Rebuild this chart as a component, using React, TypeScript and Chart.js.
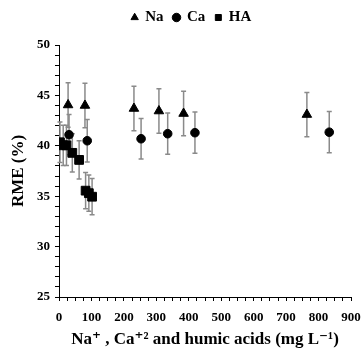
import React, { useEffect, useRef } from "react";
import { Chart, registerables } from "chart.js";

Chart.register(...registerables);

const naX = [28, 80, 231, 308, 384, 764];
const naY = [44.05, 44.0, 43.7, 43.45, 43.2, 43.1];
const naErr = [2.2, 2.2, 2.2, 2.2, 2.2, 2.2];

const caX = [31, 87, 253, 335, 419, 833];
const caY = [41.1, 40.5, 40.7, 41.2, 41.3, 41.35];
const caErr = [2.0, 2.1, 2.0, 2.05, 2.05, 2.05];

const haX = [3, 13, 23, 41, 62, 82, 92, 102];
const haY = [40.35, 40.05, 40.05, 39.3, 38.6, 35.55, 35.3, 34.95];
const haErr = [2.0, 2.0, 2.0, 1.9, 1.9, 1.8, 1.8, 1.8];

const seriesNames = ["Na", "Ca", "HA"];
const xTitle = "Na\u207A , Ca\u207A\u00B2 and humic acids (mg L\u207B\u00B9)";
const yTitle = "RME (%)";

const FONT = "'Liberation Serif', 'DejaVu Serif', serif";

const toPts = (xs: number[], ys: number[]) => xs.map((x, i) => ({ x, y: ys[i] }));

const errorBars = {
  id: "errorBars",
  beforeDatasetsDraw(chart: any) {
    const ctx = chart.ctx;
    const ys = chart.scales.y;
    ctx.save();
    ctx.strokeStyle = "#8a8a8a";
    ctx.lineWidth = 1.5;
    chart.data.datasets.forEach((ds: any, di: number) => {
      const meta = chart.getDatasetMeta(di);
      meta.data.forEach((el: any, i: number) => {
        const e = ds.errors[i];
        const v = ds.data[i].y;
        const px = el.x;
        const top = ys.getPixelForValue(v + e);
        const bot = ys.getPixelForValue(v - e);
        ctx.beginPath();
        ctx.moveTo(px, top);
        ctx.lineTo(px, bot);
        ctx.moveTo(px - 2.5, top);
        ctx.lineTo(px + 2.5, top);
        ctx.moveTo(px - 2.5, bot);
        ctx.lineTo(px + 2.5, bot);
        ctx.stroke();
      });
    });
    ctx.restore();
  },
};

export default function App() {
  const ref = useRef<HTMLCanvasElement>(null);
  useEffect(() => {
    document.body.style.margin = "0";
    const chart = new Chart(ref.current as HTMLCanvasElement, {
      type: "scatter",
      data: {
        datasets: [
          {
            label: seriesNames[0],
            data: toPts(naX, naY),
            errors: naErr,
            xAxisID: "x",
            yAxisID: "y",
            pointStyle: "triangle",
            pointRadius: 5.5,
            backgroundColor: "#000",
            borderColor: "#000",
          } as any,
          {
            label: seriesNames[1],
            data: toPts(caX, caY),
            errors: caErr,
            xAxisID: "x",
            yAxisID: "y",
            pointStyle: "circle",
            pointRadius: 4.3,
            backgroundColor: "#000",
            borderColor: "#000",
          } as any,
          {
            label: seriesNames[2],
            data: toPts(haX, haY),
            errors: haErr,
            xAxisID: "x",
            yAxisID: "y",
            pointStyle: "rect",
            pointRadius: 6.2,
            backgroundColor: "#000",
            borderColor: "#000",
          } as any,
        ],
      },
      options: {
        animation: false,
        responsive: false,
        layout: { padding: { top: 0, right: -20, bottom: 0, left: 0 } },
        plugins: {
          tooltip: { enabled: false },
          legend: {
            position: "top",
            labels: {
              usePointStyle: true,
              boxWidth: 6,
              boxHeight: 6,
              padding: 10,
              color: "#000",
              font: { family: FONT, size: 15, weight: "bold" },
            },
          },
        },
        scales: {
          x: {
            type: "linear",
            position: "bottom",
            min: 0,
            max: 900,
            afterBuildTicks: (s: any) => {
              const t = [];
              for (let v = 0; v <= 900; v += 25) t.push({ value: v });
              s.ticks = t;
            },
            ticks: {
              autoSkip: false,
              maxRotation: 0,
              padding: 9,
              color: "#000",
              font: { family: FONT, size: 13, weight: "bold" },
              callback: (v: any) => (Number(v) % 100 === 0 ? String(v) : ""),
            },
            grid: {
              display: true,
              drawOnChartArea: false,
              drawTicks: true,
              tickLength: 4,
              color: "#000",
            },
            border: { display: true, color: "#000", width: 1 },
            title: {
              display: true,
              text: xTitle,
              color: "#000",
              font: { family: FONT, size: 17, weight: "bold" },
              padding: { top: 2, bottom: 5 },
            },
            afterFit: (s: any) => {
              s.height = 58;
              s.paddingRight = 10;
              s.paddingLeft = 10;
            },
          },
          y: {
            type: "linear",
            position: "left",
            min: 25,
            max: 50,
            afterBuildTicks: (s: any) => {
              const t = [];
              for (let v = 25; v <= 50; v += 1) t.push({ value: v });
              s.ticks = t;
            },
            ticks: {
              autoSkip: false,
              padding: 5,
              color: "#000",
              font: { family: FONT, size: 13, weight: "bold" },
              callback: (v: any) => (Number(v) % 5 === 0 ? String(v) : ""),
            },
            grid: {
              display: true,
              drawOnChartArea: false,
              drawTicks: true,
              tickLength: 4,
              color: "#000",
            },
            border: { display: true, color: "#000", width: 1 },
            title: {
              display: true,
              text: yTitle,
              color: "#000",
              font: { family: FONT, size: 17, weight: "bold" },
              padding: { top: 8, bottom: 0 },
            },
            afterFit: (s: any) => {
              s.width = 59;
            },
          },
          xTop: {
            type: "linear",
            axis: "x",
            position: "top",
            display: true,
            grid: { display: false },
            border: { display: false },
            ticks: { display: false },
            afterFit: (s: any) => {
              s.height = 10;
            },
          },
          yRight: {
            type: "linear",
            axis: "y",
            position: "right",
            display: true,
            grid: { display: false },
            border: { display: false },
            ticks: { display: false },
            afterFit: (s: any) => {
              s.width = 32;
            },
          },
        },
      } as any,
      plugins: [errorBars],
    });
    return () => chart.destroy();
  }, []);
  return (
    <div style={{ width: 363, height: 355, background: "#fff" }}>
      <canvas ref={ref} width={363} height={355} />
    </div>
  );
}
